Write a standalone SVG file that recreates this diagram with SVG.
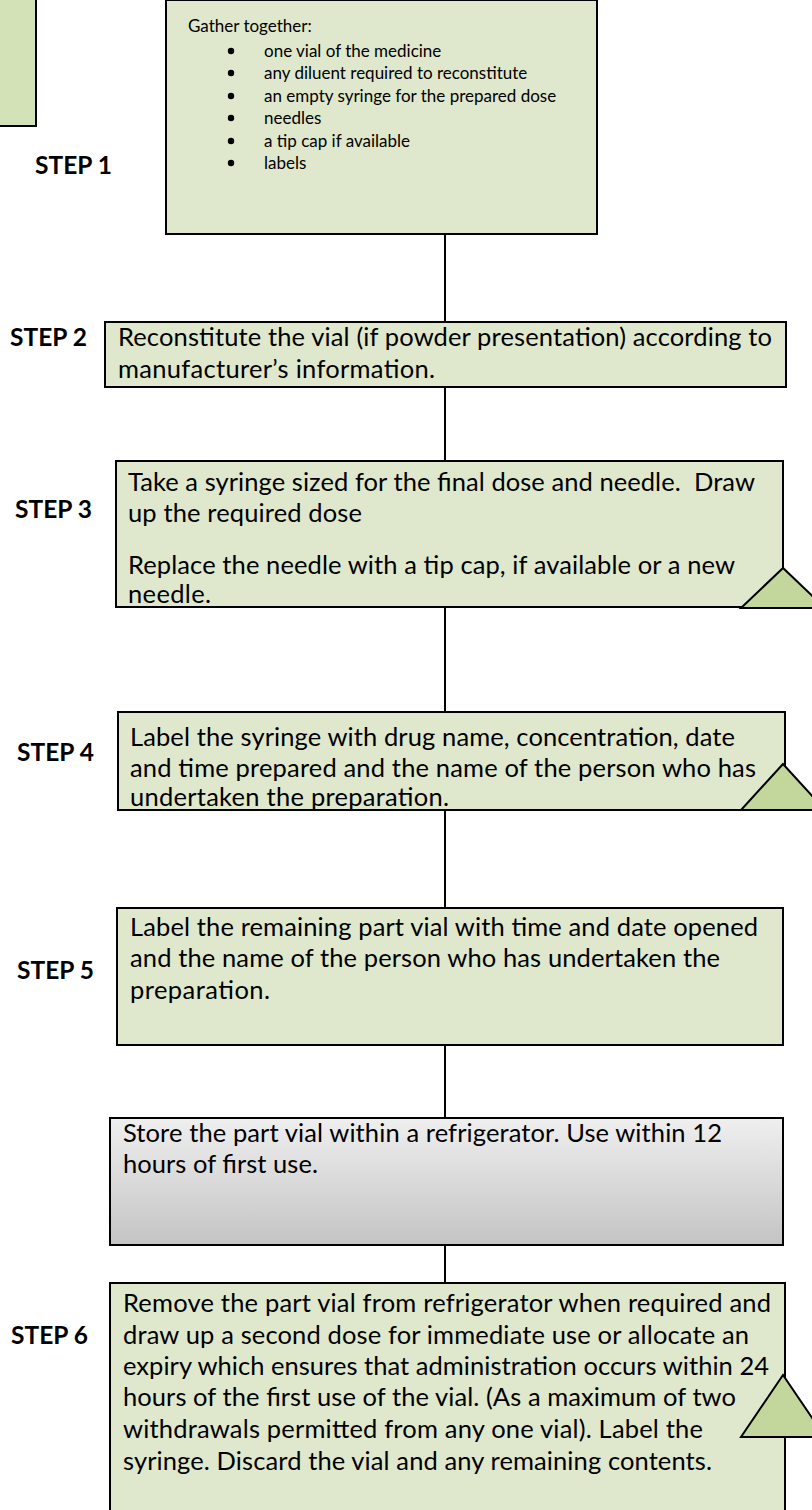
<svg xmlns="http://www.w3.org/2000/svg" width="812" height="1510" viewBox="0 0 812 1510">
  <defs>
    <linearGradient id="greyFill" x1="0" y1="0" x2="0" y2="1">
      <stop offset="0" stop-color="#efefef"/>
      <stop offset="1" stop-color="#c4c4c4"/>
    </linearGradient>
  </defs>
  <style>
    .box { fill: #dfe8cc; stroke: #000; stroke-width: 2; }
    .side { fill: #d4e2b8; stroke: #000; stroke-width: 2; }
    .grey { fill: url(#greyFill); stroke: #000; stroke-width: 2; }
    .tri { fill: #c3d69b; stroke: #000; stroke-width: 2; stroke-linejoin: miter; }
    .link { stroke: #000; stroke-width: 2; fill: none; }
    .body { font-family: Lato, "Open Sans", "Liberation Sans", sans-serif; font-size: 25.5px; fill: #000; }
    .small { font-family: Lato, "Open Sans", "Liberation Sans", sans-serif; font-size: 17px; fill: #000; }
    .step { font-family: Lato, "Open Sans", "Liberation Sans", sans-serif; font-size: 24.5px; font-weight: bold; fill: #000; }
  </style>

  <!-- connectors along the centre line -->
  <g id="connectors">
    <line class="link" x1="445" y1="234" x2="445" y2="322"/>
    <line class="link" x1="445" y1="387" x2="445" y2="461"/>
    <line class="link" x1="445" y1="607" x2="445" y2="712"/>
    <line class="link" x1="445" y1="810" x2="445" y2="908"/>
    <line class="link" x1="445" y1="1045" x2="445" y2="1118"/>
    <line class="link" x1="445" y1="1245" x2="445" y2="1283"/>
  </g>

  <!-- partial box at the top-left edge -->
  <g id="side-box">
    <rect class="side" x="-4" y="-4" width="40" height="130"/>
  </g>

  <g id="step1">
    <text class="step" x="35" y="174">STEP 1</text>
    <rect class="box" x="166" y="0" width="431" height="234"/>
    <text class="small" x="188" y="32">Gather together:</text>
    <g class="small">
      <circle cx="231" cy="51" r="3.2"/>
      <circle cx="231" cy="73" r="3.2"/>
      <circle cx="231" cy="96" r="3.2"/>
      <circle cx="231" cy="118" r="3.2"/>
      <circle cx="231" cy="141" r="3.2"/>
      <circle cx="231" cy="163" r="3.2"/>
    </g>
    <text class="small" x="264" y="57">one vial of the medicine</text>
    <text class="small" x="264" y="79">any diluent required to reconstitute</text>
    <text class="small" x="264" y="102">an empty syringe for the prepared dose</text>
    <text class="small" x="264" y="124">needles</text>
    <text class="small" x="264" y="147">a tip cap if available</text>
    <text class="small" x="264" y="169">labels</text>
  </g>

  <g id="step2">
    <text class="step" x="10" y="346">STEP 2</text>
    <rect class="box" x="105" y="322" width="681" height="65"/>
    <text class="body" x="118" y="346" textLength="654">Reconstitute the vial (if powder presentation) according to</text>
    <text class="body" x="118" y="378" textLength="317">manufacturer’s information.</text>
  </g>

  <g id="step3">
    <text class="step" x="15" y="518">STEP 3</text>
    <rect class="box" x="116" y="461" width="667" height="146"/>
    <text class="body" x="128" y="491" textLength="627">Take a syringe sized for the final dose and needle. &#160;Draw</text>
    <text class="body" x="128" y="522" textLength="234">up the required dose</text>
    <text class="body" x="128" y="574" textLength="607">Replace the needle with a tip cap, if available or a new</text>
    <text class="body" x="128" y="603" textLength="83">needle.</text>
    <polygon class="tri" points="783,568 741,608 825,608"/>
  </g>

  <g id="step4">
    <text class="step" x="17" y="761">STEP 4</text>
    <rect class="box" x="118" y="712" width="667" height="98"/>
    <text class="body" x="130" y="746" textLength="605">Label the syringe with drug name, concentration, date</text>
    <text class="body" x="130" y="777" textLength="626">and time prepared and the name of the person who has</text>
    <text class="body" x="130" y="806" textLength="319">undertaken the preparation.</text>
    <polygon class="tri" points="783,764 741,810 825,810"/>
  </g>

  <g id="step5">
    <text class="step" x="17" y="979">STEP 5</text>
    <rect class="box" x="117" y="908" width="666" height="137"/>
    <text class="body" x="130" y="936" textLength="628">Label the remaining part vial with time and date opened</text>
    <text class="body" x="130" y="967" textLength="590">and the name of the person who has undertaken the</text>
    <text class="body" x="130" y="999" textLength="140">preparation.</text>
  </g>

  <g id="store">
    <rect class="grey" x="110" y="1118" width="673" height="127"/>
    <text class="body" x="123" y="1142" textLength="599">Store the part vial within a refrigerator. Use within 12</text>
    <text class="body" x="123" y="1173" textLength="195">hours of first use.</text>
  </g>

  <g id="step6">
    <text class="step" x="11" y="1344">STEP 6</text>
    <rect class="box" x="110" y="1283" width="675" height="240"/>
    <text class="body" x="123" y="1312" textLength="648">Remove the part vial from refrigerator when required and</text>
    <text class="body" x="123" y="1344" textLength="626">draw up a second dose for immediate use or allocate an</text>
    <text class="body" x="123" y="1375" textLength="646">expiry which ensures that administration occurs within 24</text>
    <text class="body" x="123" y="1406" textLength="613">hours of the first use of the vial. (As a maximum of two</text>
    <text class="body" x="123" y="1438" textLength="580">withdrawals permitted from any one vial). Label the</text>
    <text class="body" x="123" y="1470" textLength="589">syringe. Discard the vial and any remaining contents.</text>
    <polygon class="tri" points="783,1375 741,1437 825,1437"/>
  </g>
</svg>
